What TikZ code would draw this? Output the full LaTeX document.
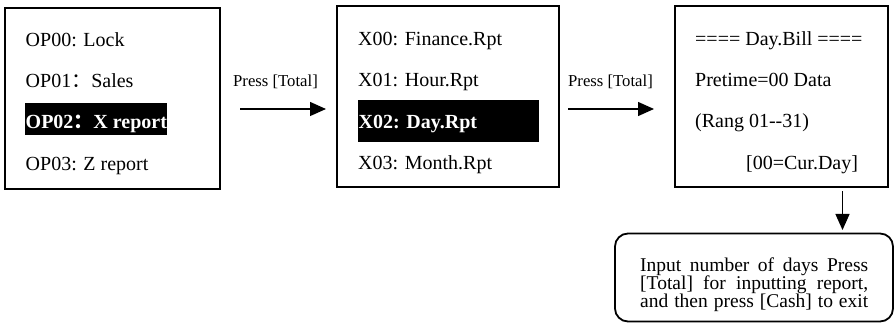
\documentclass[tikz,border=0pt]{standalone}
\usepackage{fontspec}
\setmainfont{Liberation Serif}
\newfontfamily\cjk{Noto Sans CJK SC}
\usetikzlibrary{arrows.meta}
\newcommand{\fwc}{{\cjk ：}}
\begin{document}
\begin{tikzpicture}[x=1pt,y=-1pt,
  screen/.style={draw,line width=1.8pt,inner sep=0pt,minimum width=#1},
  item/.style={anchor=base west,inner sep=0pt,font=\fontsize{20}{24}\selectfont},
  hl/.style={fill=black,inner sep=0pt},
  lbl/.style={anchor=base west,inner sep=0pt,font=\fontsize{16.7}{20}\selectfont},
  conn/.style={line width=1.3pt,-{Triangle[length=16pt,width=14pt]}},
  note/.style={draw,line width=1.8pt,rounded corners=13pt,inner sep=0pt}]
\useasboundingbox (0,0) rectangle (894,323);
% screens
\node[screen=215pt,minimum height=181pt] (s1) at (112.5,98.5) {};
\node[screen=222pt,minimum height=181pt] (s2) at (448,96.5) {};
\node[screen=213pt,minimum height=181pt] (s3) at (781.5,96.5) {};
% highlights
\node[hl,minimum width=142pt,minimum height=32pt] (h1) at (96,119) {};
\node[hl,minimum width=181pt,minimum height=42pt] (h2) at (448.5,121) {};
% screen 1 items
\node[item] (t10) at (25.5,46.7) {OP00: Lock};
\node[item] (t11) at (25.5,88) {OP01\fwc Sales};
\node[item,text=white,font=\fontsize{20}{24}\selectfont\bfseries] (t12) at (25.5,129) {OP02\fwc X report};
\node[item] (t13) at (25.5,170.7) {OP03: Z report};
% screen 2 items
\node[item] (t20) at (358,45.7) {X00: Finance.Rpt};
\node[item] (t21) at (358,87) {X01: Hour.Rpt};
\node[item,text=white,font=\fontsize{20}{24}\selectfont\bfseries] (t22) at (358.5,129) {X02: Day.Rpt};
\node[item] (t23) at (358,170) {X03: Month.Rpt};
% screen 3 items
\node[item] (t30) at (695,45.7) {==== Day.Bill ====};
\node[item] (t31) at (695,87) {Pretime=00 Data};
\node[item] (t32) at (695,128) {(Rang 01-{}-31)};
\node[item] (t33) at (746,170) {[00=Cur.Day]};
% arrows
\coordinate (a1s) at (240,109);
\coordinate (a1e) at (326,109);
\coordinate (a2s) at (568,109);
\coordinate (a2e) at (654,109);
\coordinate (a3s) at (842.5,191.5);
\coordinate (a3e) at (842.5,230);
\node[lbl] (l1) at (233,87) {Press [Total]};
\node[lbl] (l2) at (568,87) {Press [Total]};
\draw[conn] (a1s) -- (a1e);
\draw[conn] (a2s) -- (a2e);
\draw[conn] (a3s) -- (a3e);
% note
\node[note,minimum width=278pt,minimum height=88pt] (n) at (754,277.5) {};
\node[anchor=north west,inner sep=0pt,align=left,font=\fontsize{19.5}{18}\selectfont] (nt) at (640,257.5)
  {\makebox[228pt][s]{Input number of days Press}\\
   \makebox[228pt][s]{[Total] for inputting report,}\\
   \makebox[228pt][s]{and then press [Cash] to exit}};
\end{tikzpicture}
\end{document}
